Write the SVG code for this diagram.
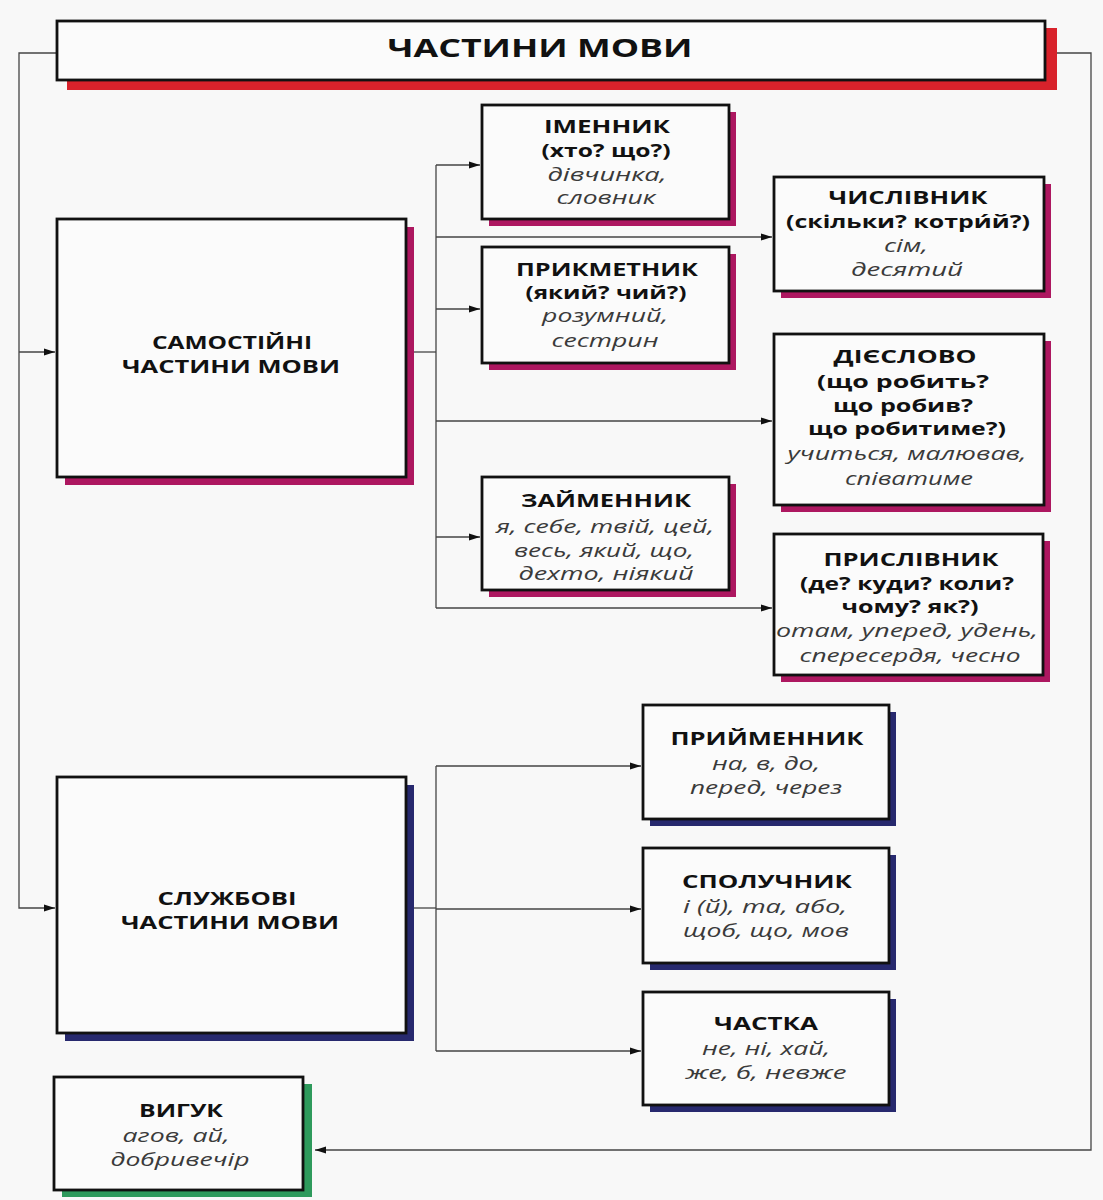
<svg xmlns="http://www.w3.org/2000/svg" width="1103" height="1200" viewBox="0 0 1103 1200">
<defs>
<marker id="arr" markerUnits="userSpaceOnUse" markerWidth="12" markerHeight="10" refX="11" refY="4" orient="auto">
<path d="M0,0.5 L11,4 L0,7.5 Z" fill="#111"/>
</marker>
<style>
.bx{fill:#fbfbfb;stroke:#111;stroke-width:2.8}
.sm{fill:#ad1760}
.sr{fill:#d8222b}
.sb{fill:#27296e}
.sg{fill:#2e9a5c}
.con{fill:none;stroke:#444;stroke-width:1.3}
text{font-family:"Open Sans","DejaVu Sans",sans-serif;text-anchor:middle;font-size:17.5px}
.h{font-weight:700;fill:#111}
.q{font-weight:700;fill:#111}
.e{font-style:italic;fill:#3a3a3a}
.t{font-weight:700;font-size:25px;fill:#111}
.big{font-weight:700;font-size:17.5px;fill:#111}
</style>
</defs>
<rect width="1103" height="1200" fill="#f8f8f8"/>

<g id="connectors">
<path class="con" d="M57,53 H19 V908 H55" marker-end="url(#arr)"/>
<path class="con" d="M19,352 H55" marker-end="url(#arr)"/>
<path class="con" d="M1045,53 H1091 V1150 H315" marker-end="url(#arr)"/>
<path class="con" d="M406,352 H436"/>
<path class="con" d="M436,165 V608"/>
<path class="con" d="M436,165 H480" marker-end="url(#arr)"/>
<path class="con" d="M436,237 H772" marker-end="url(#arr)"/>
<path class="con" d="M436,309 H480" marker-end="url(#arr)"/>
<path class="con" d="M436,421 H772" marker-end="url(#arr)"/>
<path class="con" d="M436,537 H480" marker-end="url(#arr)"/>
<path class="con" d="M436,608 H772" marker-end="url(#arr)"/>
<path class="con" d="M406,908 H436"/>
<path class="con" d="M436,766 V1051"/>
<path class="con" d="M436,766 H641" marker-end="url(#arr)"/>
<path class="con" d="M436,909 H641" marker-end="url(#arr)"/>
<path class="con" d="M436,1051 H641" marker-end="url(#arr)"/>
</g>

<g id="title">
<rect class="sr" x="67" y="28" width="990" height="62"/>
<rect class="bx" x="57" y="21" width="988" height="59"/>
<text class="t" x="540" y="57" textLength="305" lengthAdjust="spacingAndGlyphs">ЧАСТИНИ МОВИ</text>
</g>

<g id="samostiyni">
<rect class="sm" x="65" y="227" width="349" height="258"/>
<rect class="bx" x="57" y="219" width="349" height="258"/>
<text class="big" x="232" y="349" textLength="160" lengthAdjust="spacingAndGlyphs">САМОСТІЙНІ</text>
<text class="big" x="231" y="373" textLength="218" lengthAdjust="spacingAndGlyphs">ЧАСТИНИ МОВИ</text>
</g>

<g id="imennyk">
<rect class="sm" x="489" y="112" width="247" height="114"/>
<rect class="bx" x="482" y="105" width="247" height="114"/>
<text class="h" x="607" y="133" textLength="126" lengthAdjust="spacingAndGlyphs">ІМЕННИК</text>
<text class="q" x="606" y="157" textLength="129" lengthAdjust="spacingAndGlyphs">(хто? що?)</text>
<text class="e" x="607" y="181" textLength="119" lengthAdjust="spacingAndGlyphs">дівчинка,</text>
<text class="e" x="606" y="204" textLength="99" lengthAdjust="spacingAndGlyphs">словник</text>
</g>

<g id="prykmetnyk">
<rect class="sm" x="489" y="254" width="247" height="116"/>
<rect class="bx" x="482" y="247" width="247" height="116"/>
<text class="h" x="607" y="276" textLength="182" lengthAdjust="spacingAndGlyphs">ПРИКМЕТНИК</text>
<text class="q" x="606" y="299" textLength="161" lengthAdjust="spacingAndGlyphs">(який? чий?)</text>
<text class="e" x="605" y="322" textLength="126" lengthAdjust="spacingAndGlyphs">розумний,</text>
<text class="e" x="605" y="347" textLength="107" lengthAdjust="spacingAndGlyphs">сестрин</text>
</g>

<g id="chyslivnyk">
<rect class="sm" x="781" y="184" width="270" height="114"/>
<rect class="bx" x="774" y="177" width="270" height="114"/>
<text class="h" x="908" y="204" textLength="159" lengthAdjust="spacingAndGlyphs">ЧИСЛІВНИК</text>
<text class="q" x="908" y="228" textLength="244" lengthAdjust="spacingAndGlyphs">(скільки? котри́й?)</text>
<text class="e" x="906" y="252" textLength="44" lengthAdjust="spacingAndGlyphs">сім,</text>
<text class="e" x="907" y="276" textLength="112" lengthAdjust="spacingAndGlyphs">десятий</text>
</g>

<g id="dieslovo">
<rect class="sm" x="781" y="341" width="270" height="171"/>
<rect class="bx" x="774" y="334" width="270" height="171"/>
<text class="h" x="905" y="363" textLength="143" lengthAdjust="spacingAndGlyphs">ДІЄСЛОВО</text>
<text class="q" x="903" y="388" textLength="172" lengthAdjust="spacingAndGlyphs">(що робить?</text>
<text class="q" x="903" y="412" textLength="140" lengthAdjust="spacingAndGlyphs">що робив?</text>
<text class="q" x="907" y="435" textLength="198" lengthAdjust="spacingAndGlyphs">що робитиме?)</text>
<text class="e" x="907" y="460" textLength="239" lengthAdjust="spacingAndGlyphs">учиться, малював,</text>
<text class="e" x="909" y="485" textLength="128" lengthAdjust="spacingAndGlyphs">співатиме</text>
</g>

<g id="zaymennyk">
<rect class="sm" x="489" y="484" width="247" height="113"/>
<rect class="bx" x="482" y="477" width="247" height="113"/>
<text class="h" x="606" y="507" textLength="170" lengthAdjust="spacingAndGlyphs">ЗАЙМЕННИК</text>
<text class="e" x="605" y="533" textLength="218" lengthAdjust="spacingAndGlyphs">я, себе, твій, цей,</text>
<text class="e" x="604" y="557" textLength="180" lengthAdjust="spacingAndGlyphs">весь, який, що,</text>
<text class="e" x="606" y="580" textLength="175" lengthAdjust="spacingAndGlyphs">дехто, ніякий</text>
</g>

<g id="pryslivnyk">
<rect class="sm" x="781" y="541" width="269" height="141"/>
<rect class="bx" x="774" y="534" width="269" height="141"/>
<text class="h" x="911" y="566" textLength="175" lengthAdjust="spacingAndGlyphs">ПРИСЛІВНИК</text>
<text class="q" x="907" y="590" textLength="214" lengthAdjust="spacingAndGlyphs">(де? куди? коли?</text>
<text class="q" x="910" y="613" textLength="137" lengthAdjust="spacingAndGlyphs">чому? як?)</text>
<text class="e" x="907" y="637" textLength="262" lengthAdjust="spacingAndGlyphs">отам, уперед, удень,</text>
<text class="e" x="910" y="662" textLength="221" lengthAdjust="spacingAndGlyphs">спересердя, чесно</text>
</g>

<g id="sluzhbovi">
<rect class="sb" x="65" y="785" width="349" height="256"/>
<rect class="bx" x="57" y="777" width="349" height="256"/>
<text class="big" x="227" y="905" textLength="139" lengthAdjust="spacingAndGlyphs">СЛУЖБОВІ</text>
<text class="big" x="230" y="929" textLength="218" lengthAdjust="spacingAndGlyphs">ЧАСТИНИ МОВИ</text>
</g>

<g id="pryymennyk">
<rect class="sb" x="650" y="712" width="246" height="114"/>
<rect class="bx" x="643" y="705" width="246" height="114"/>
<text class="h" x="767" y="745" textLength="193" lengthAdjust="spacingAndGlyphs">ПРИЙМЕННИК</text>
<text class="e" x="766" y="770" textLength="108" lengthAdjust="spacingAndGlyphs">на, в, до,</text>
<text class="e" x="766" y="794" textLength="152" lengthAdjust="spacingAndGlyphs">перед, через</text>
</g>

<g id="spoluchnyk">
<rect class="sb" x="650" y="855" width="246" height="115"/>
<rect class="bx" x="643" y="848" width="246" height="115"/>
<text class="h" x="767" y="888" textLength="170" lengthAdjust="spacingAndGlyphs">СПОЛУЧНИК</text>
<text class="e" x="765" y="913" textLength="164" lengthAdjust="spacingAndGlyphs">і (й), та, або,</text>
<text class="e" x="766" y="937" textLength="166" lengthAdjust="spacingAndGlyphs">щоб, що, мов</text>
</g>

<g id="chastka">
<rect class="sb" x="650" y="999" width="246" height="113"/>
<rect class="bx" x="643" y="992" width="246" height="113"/>
<text class="h" x="766" y="1030" textLength="104" lengthAdjust="spacingAndGlyphs">ЧАСТКА</text>
<text class="e" x="766" y="1055" textLength="128" lengthAdjust="spacingAndGlyphs">не, ні, хай,</text>
<text class="e" x="766" y="1079" textLength="161" lengthAdjust="spacingAndGlyphs">же, б, невже</text>
</g>

<g id="vyhuk">
<rect class="sg" x="62" y="1084" width="250" height="113"/>
<rect class="bx" x="54" y="1077" width="249" height="113"/>
<text class="h" x="181" y="1117" textLength="84" lengthAdjust="spacingAndGlyphs">ВИГУК</text>
<text class="e" x="176" y="1142" textLength="107" lengthAdjust="spacingAndGlyphs">агов, ай,</text>
<text class="e" x="180" y="1166" textLength="139" lengthAdjust="spacingAndGlyphs">добривечір</text>
</g>
</svg>
